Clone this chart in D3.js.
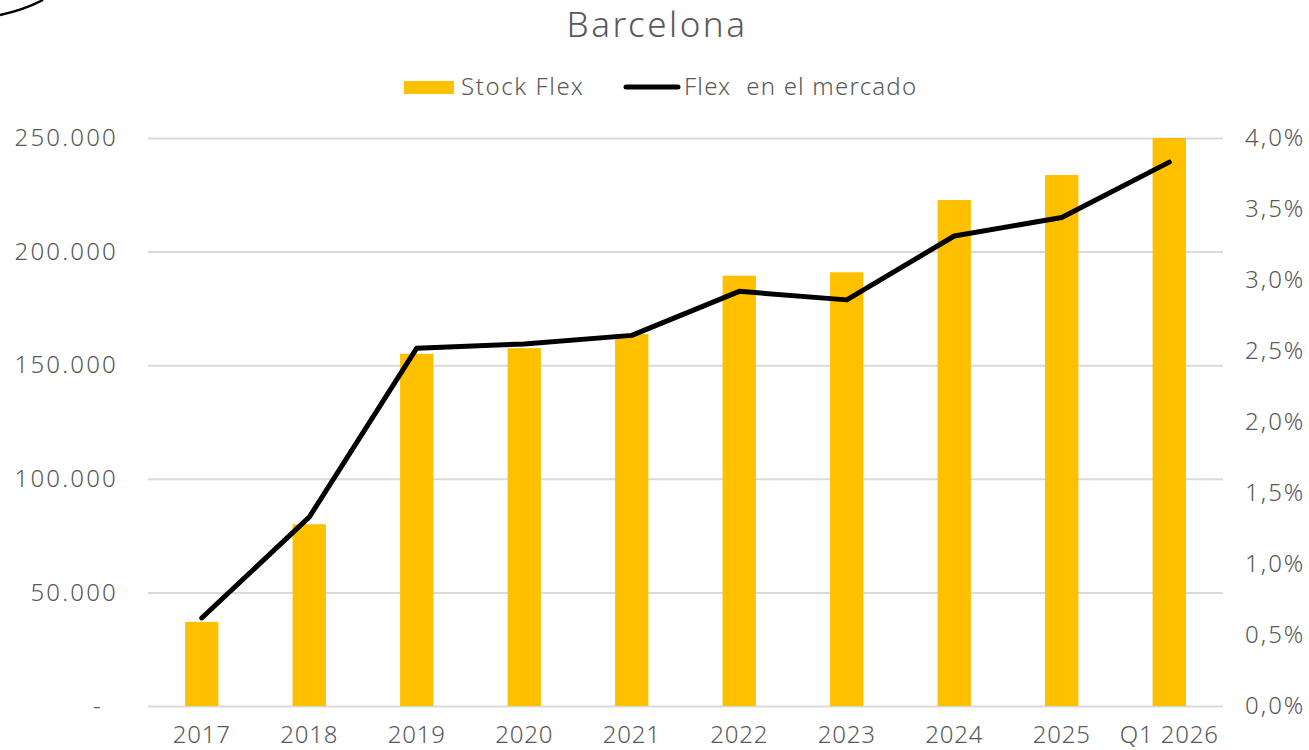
<!DOCTYPE html>
<html>
<head>
<meta charset="utf-8">
<script src="https://cdn.jsdelivr.net/npm/d3@7"></script>
<style>
  body { margin: 0; background: #fff; }
  svg text { font-family: "Noto Sans", "DejaVu Sans", sans-serif; font-weight: 300; fill: #595959; }
  .grid line { stroke: #d9d9d9; stroke-width: 2; }
  .domain { display: none; }
</style>
</head>
<body>
<div id="chart"></div>
<script>
// data
const categories = ["2017", "2018", "2019", "2020", "2021", "2022", "2023", "2024", "2025", "Q1 2026"];
const stockFlex = [37000, 80000, 155000, 157500, 163700, 189400, 190900, 222700, 233700, 250000];
const flexMercado = [0.0062, 0.0133, 0.0252, 0.0255, 0.0261, 0.0292, 0.0286, 0.0331, 0.0344, 0.0383];
const leftTicks = [0, 50000, 100000, 150000, 200000, 250000];
const rightTicks = [0, 0.005, 0.01, 0.015, 0.02, 0.025, 0.03, 0.035, 0.04];

var W = 1309, H = 750;
var margin = {top: 138, right: 86, bottom: 44, left: 148};
var width = W - margin.left - margin.right,
    height = H - margin.top - margin.bottom;

var svgRoot = d3.select("#chart").append("svg")
  .attr("width", W)
  .attr("height", H);

// stray arc in the top-left corner of the original
svgRoot.append("path")
  .attr("d", "M0,15 Q24,10 43,0")
  .attr("fill", "none")
  .attr("stroke", "#000")
  .attr("stroke-width", 2.5);

var svg = svgRoot.append("g")
  .attr("transform", "translate(" + margin.left + "," + margin.top + ")");

var x = d3.scaleBand()
  .domain(categories)
  .range([0, width])
  .padding(0);

var y = d3.scaleLinear().domain([0, 250000]).range([height, 0]);
var y2 = d3.scaleLinear().domain([0, 0.04]).range([height, 0]);

var fmtThousands = d3.formatLocale({decimal: ",", thousands: ".", grouping: [3], currency: ["", "€"]});
var fmtLeft = function(d) { return d === 0 ? "-" : fmtThousands.format(",")(d); };
var fmtRight = fmtThousands.format(".1%");

// gridlines
svg.append("g")
  .attr("class", "grid")
  .call(d3.axisLeft(y).tickValues(leftTicks).tickSize(-width).tickFormat(""))
  .selectAll("text").remove();

// bars
var barW = x.bandwidth() * 0.31;
svg.selectAll(".bar")
  .data(stockFlex)
  .enter().append("rect")
  .attr("class", "bar")
  .attr("fill", "#ffc000")
  .attr("x", function(d, i) { return x(categories[i]) + x.bandwidth() / 2 - barW / 2; })
  .attr("width", barW)
  .attr("y", function(d) { return y(d); })
  .attr("height", function(d) { return height - y(d); });

// line
var line = d3.line()
  .x(function(d, i) { return x(categories[i]) + x.bandwidth() / 2; })
  .y(function(d) { return y2(d); });

svg.append("path")
  .datum(flexMercado)
  .attr("d", line)
  .attr("fill", "none")
  .attr("stroke", "#000")
  .attr("stroke-width", 5)
  .attr("stroke-linejoin", "round")
  .attr("stroke-linecap", "round");

// axes
var leftAxis = svg.append("g")
  .call(d3.axisLeft(y).tickValues(leftTicks).tickSize(0).tickPadding(30).tickFormat(fmtLeft));
leftAxis.selectAll("text")
  .style("font-size", "24px")
  .style("letter-spacing", "2.2px")
  .attr("dx", function(d) { return d === 0 ? "-15" : "0"; });

var rightAxis = svg.append("g")
  .attr("transform", "translate(" + width + ",0)")
  .call(d3.axisRight(y2).tickValues(rightTicks).tickSize(0).tickPadding(22).tickFormat(fmtRight));
rightAxis.selectAll("text")
  .style("font-size", "24px")
  .style("letter-spacing", "2px");

var bottomAxis = svg.append("g")
  .attr("transform", "translate(0," + height + ")")
  .call(d3.axisBottom(x).tickSize(0).tickPadding(20));
bottomAxis.selectAll("text")
  .style("font-size", "24px")
  .style("letter-spacing", "0.8px");

// title
svgRoot.append("text")
  .attr("x", 657)
  .attr("y", 37)
  .style("text-anchor", "middle")
  .style("font-size", "35px")
  .style("letter-spacing", "2.5px")
  .text("Barcelona");

// legend
var legend = svgRoot.append("g");
legend.append("rect")
  .attr("x", 404).attr("y", 81)
  .attr("width", 50).attr("height", 13)
  .attr("fill", "#ffc000");
legend.append("text")
  .attr("x", 461).attr("y", 95)
  .style("font-size", "24px")
  .style("letter-spacing", "1.6px")
  .text("Stock Flex");
legend.append("line")
  .attr("x1", 626).attr("x2", 678)
  .attr("y1", 87).attr("y2", 87)
  .attr("stroke", "#000")
  .attr("stroke-width", 5)
  .attr("stroke-linecap", "round");
legend.append("text")
  .attr("x", 684).attr("y", 95)
  .attr("xml:space", "preserve")
  .style("font-size", "24px")
  .style("letter-spacing", "1.2px")
  .text("Flex  en el mercado");
</script>
</body>
</html>
